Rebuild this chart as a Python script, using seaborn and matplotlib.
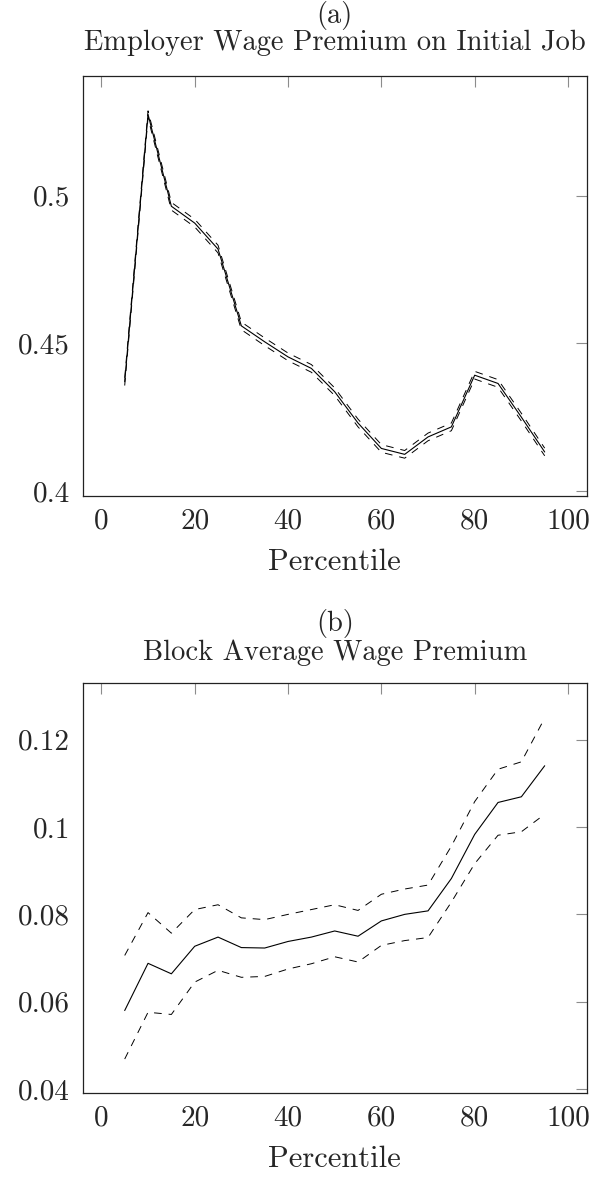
import numpy as np
import pandas as pd
import matplotlib
matplotlib.use("Agg")
import matplotlib.pyplot as plt
import seaborn as sns

pct = [5, 10, 15, 20, 25, 30, 35, 40, 45, 50, 55, 60, 65, 70, 75, 80, 85, 90, 95]

# (a) employer wage premium on initial job
emp_est = [0.437, 0.5275, 0.4964, 0.4907, 0.4819, 0.4559, 0.4505, 0.4454, 0.4415, 0.4336,
           0.4230, 0.4144, 0.4124, 0.4183, 0.4217, 0.4392, 0.4364, 0.4250, 0.4132]
emp_se = [0.0013, 0.0012, 0.0013, 0.0013, 0.0013, 0.0013, 0.0013, 0.0013, 0.0013, 0.0013,
          0.0013, 0.0013, 0.0013, 0.0013, 0.0013, 0.0013, 0.0013, 0.0013, 0.0013]

# (b) block average wage premium
blk_est = [0.0580, 0.0688, 0.0664, 0.0727, 0.0748, 0.0724, 0.0723, 0.0738, 0.0748, 0.0762,
           0.0750, 0.0785, 0.0800, 0.0808, 0.0882, 0.0983, 0.1056, 0.1069, 0.1140]
blk_hi = [0.0706, 0.0804, 0.0757, 0.0811, 0.0822, 0.0792, 0.0788, 0.0800, 0.0811, 0.0822,
          0.0809, 0.0846, 0.0858, 0.0867, 0.0956, 0.1058, 0.1132, 0.1149, 0.1249]
blk_lo = [0.0469, 0.0576, 0.0571, 0.0645, 0.0672, 0.0656, 0.0658, 0.0675, 0.0687, 0.0703,
          0.0691, 0.0729, 0.0740, 0.0747, 0.0828, 0.0916, 0.0981, 0.0989, 0.1029]

sns.set_theme(style="white")
plt.rcParams['font.family'] = ['cmr10', 'DejaVu Serif']
plt.rcParams['lines.scale_dashes'] = False
plt.rcParams['axes.unicode_minus'] = False

emp = pd.DataFrame({'pct': pct, 'est': emp_est,
                    'lo': np.array(emp_est) - np.array(emp_se),
                    'hi': np.array(emp_est) + np.array(emp_se)})
blk = pd.DataFrame({'pct': pct, 'est': blk_est, 'lo': blk_lo, 'hi': blk_hi})

W, H = 593, 1181
fig = plt.figure(figsize=(W / 100, H / 100), dpi=100)
ax1 = fig.add_axes([82.7 / W, 1 - 495.7 / H, 504 / W, 419.7 / H])
ax2 = fig.add_axes([82.7 / W, 1 - 1092.7 / H, 504 / W, 410 / H])

dash = (0, (5.5, 5.0))
for ax, df in [(ax1, emp), (ax2, blk)]:
    sns.lineplot(data=df, x='pct', y='hi', ax=ax, color='black', lw=0.7, linestyle=dash)
    sns.lineplot(data=df, x='pct', y='lo', ax=ax, color='black', lw=0.7, linestyle=dash)
    sns.lineplot(data=df, x='pct', y='est', ax=ax, color='black', lw=0.8)
    ax.set_xlim(-4, 104)
    ax.set_xticks([0, 20, 40, 60, 80, 100])
    ax.set_xticklabels(['0', '20', '40', '60', '80', '100'])
    ax.set_xlabel('Percentile', fontsize=22, labelpad=10)
    ax.set_ylabel('')
    ax.tick_params(direction='in', length=8, width=0.8, color='#8c8c8c',
                   top=True, right=True, labelsize=21, pad=9)
    for s in ax.spines.values():
        s.set_color('#222222')
        s.set_linewidth(0.9)

ax1.set_ylim(0.3984, 0.5405)
ax1.set_yticks([0.4, 0.45, 0.5])
ax1.set_yticklabels(['0.4', '0.45', '0.5'])
ax2.set_ylim(0.0392, 0.1330)
ax2.set_yticks([0.04, 0.06, 0.08, 0.1, 0.12])
ax2.set_yticklabels(['0.04', '0.06', '0.08', '0.1', '0.12'])

cx = (82.7 + 586.7) / 2 / W
fig.text(cx, 1 - 15 / H, '(a)', ha='center', va='center', fontsize=20.5)
fig.text(cx, 1 - 43 / H, 'Employer Wage Premium on Initial Job', ha='center', va='center', fontsize=20.5)
fig.text(cx, 1 - 624 / H, '(b)', ha='center', va='center', fontsize=20.5)
fig.text(cx, 1 - 653 / H, 'Block Average Wage Premium', ha='center', va='center', fontsize=20.5)

fig.savefig('out.png', dpi=100)
